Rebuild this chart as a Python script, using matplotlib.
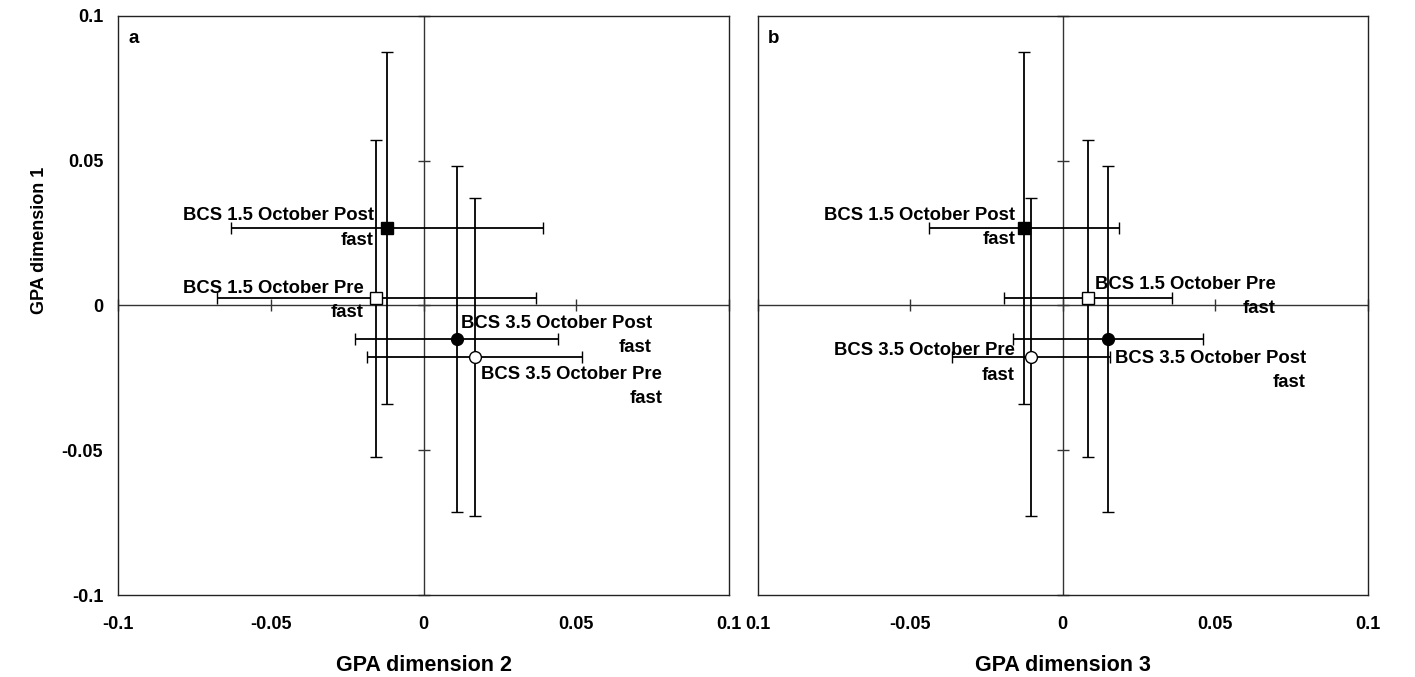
import matplotlib
matplotlib.use('Agg')
import matplotlib.pyplot as plt

plt.rcParams['font.family'] = ['Liberation Sans', 'DejaVu Sans']
plt.rcParams['font.weight'] = 'bold'

# DATA: GPA CONSENSUS POSITIONS (+/- ERROR) FOR EACH TREATMENT
LABELS = ['BCS 1.5 October Post\nfast', 'BCS 1.5 October Pre\nfast',
          'BCS 3.5 October Post\nfast', 'BCS 3.5 October Pre\nfast']
MARKERS = ['s', 's', 'o', 'o']
FACES = ['black', 'white', 'black', 'white']

DIM1 = [0.0267, 0.0024, -0.0116, -0.0178]
DIM1_ERR = [0.0606, 0.0547, 0.0597, 0.0549]
DIM2 = [-0.0119, -0.0155, 0.0108, 0.0168]
DIM2_ERR = [0.0511, 0.0522, 0.0333, 0.0352]
DIM3 = [-0.0127, 0.0083, 0.0148, -0.0103]
DIM3_ERR = [0.0311, 0.0276, 0.0312, 0.0260]

TICKS = [-0.1, -0.05, 0, 0.05, 0.1]
TICK_LABELS = ['-0.1', '-0.05', '0', '0.05', '0.1']
TICK_LABELS_B = ['0.1', '-0.05', '0', '0.05', '0.1']

# POSICAO DOS RÓTULOS (BORDA DIREITA, CENTRO VERTICAL)
POS_A = [(-0.0163, 0.0267), (-0.0197, 0.0016), (0.0748, -0.0104), (0.0782, -0.0281)]
POS_B = [(-0.0155, 0.0270), (0.0699, 0.0030), (0.0797, -0.0225), (-0.0158, -0.0199)]

fig = plt.figure(figsize=(14.15, 6.77), dpi=100)
ax_a = fig.add_axes([0.0837, 0.1211, 0.4313, 0.8557])
ax_b = fig.add_axes([0.5354, 0.1211, 0.4311, 0.8557])


def draw_panel(ax, xs, xerr, pos, letter, xticklabels, xlabel):
    ax.set_xlim(-0.1, 0.1)
    ax.set_ylim(-0.1, 0.1)
    # EIXOS CRUZANDO NO ZERO
    ax.axhline(0, color='#333333', lw=1, zorder=1)
    ax.axvline(0, color='#333333', lw=1, zorder=1)
    ax.plot(TICKS, [0] * len(TICKS), ls='none', marker='|', ms=8,
            mew=1, color='#333333', zorder=1, clip_on=False)
    ax.plot([0] * len(TICKS), TICKS, ls='none', marker='_', ms=8,
            mew=1, color='#333333', zorder=1, clip_on=False)
    for i in range(len(LABELS)):
        ax.errorbar(xs[i], DIM1[i], xerr=xerr[i], yerr=DIM1_ERR[i],
                    fmt=MARKERS[i], ms=8.5, mfc=FACES[i], mec='black',
                    mew=1, ecolor='black', elinewidth=1.3, capsize=4,
                    capthick=1.3, zorder=3)
        ax.text(pos[i][0], pos[i][1], LABELS[i], ha='right', va='center',
                multialignment='right', fontsize=13.3, fontweight='bold',
                linespacing=1.55, zorder=4)
    ax.text(0.017, 0.975, letter, transform=ax.transAxes, ha='left',
            va='top', fontsize=13.5, fontweight='bold')
    ax.set_xticks(TICKS)
    ax.set_xticklabels(xticklabels)
    ax.set_yticks(TICKS)
    ax.tick_params(length=0, labelsize=13, pad=11)
    ax.tick_params(axis='x', pad=15)
    for s in ax.spines.values():
        s.set_color('#222222')
        s.set_linewidth(1)
    ax.set_xlabel(xlabel, fontsize=15.5, fontweight='bold', labelpad=16)


draw_panel(ax_a, DIM2, DIM2_ERR, POS_A, 'a', TICK_LABELS, 'GPA dimension 2')
draw_panel(ax_b, DIM3, DIM3_ERR, POS_B, 'b', TICK_LABELS_B, 'GPA dimension 3')

ax_a.set_yticklabels(TICK_LABELS)
ax_b.set_yticklabels([])
fig.text(40 / 1415, 1 - 240 / 677, 'GPA dimension 1', rotation=90,
         ha='center', va='center', fontsize=13, fontweight='bold')

fig.savefig('out.png', dpi=100)
